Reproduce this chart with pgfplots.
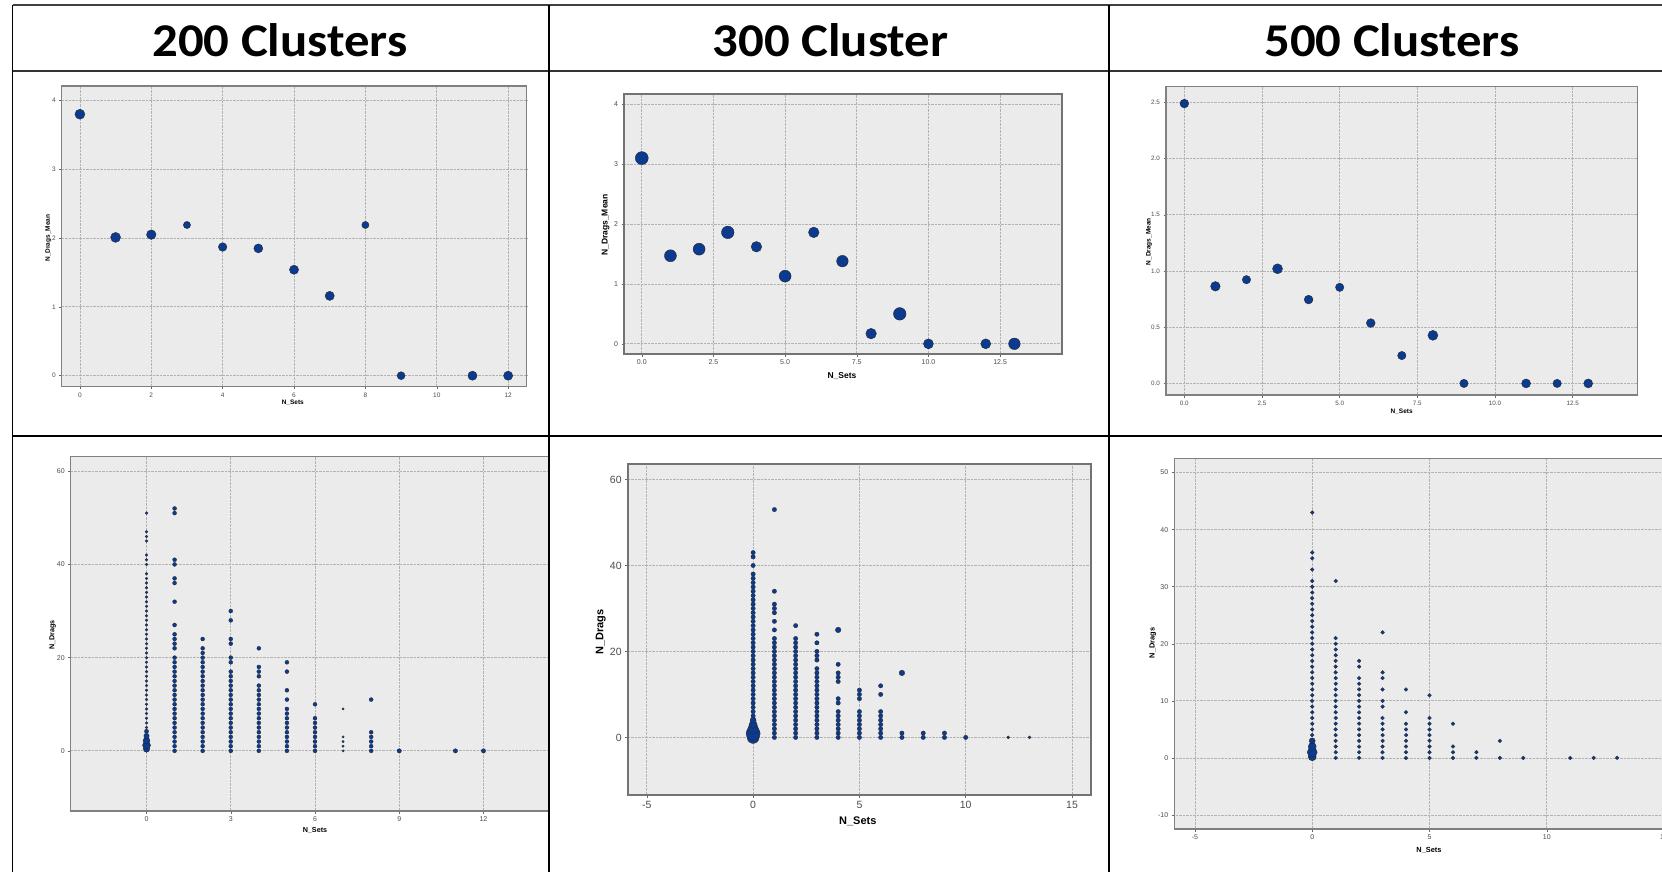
\documentclass[border=0pt]{standalone}
\usepackage{graphicx}
\usepackage{pgfplots}
\pgfplotsset{compat=1.18}
\usepackage{fontspec}
\setmainfont{Liberation Sans}
\newfontfamily\hdr{Carlito}
\definecolor{bgc}{RGB}{235,235,235}
\definecolor{frc}{RGB}{128,128,128}
\definecolor{grc}{RGB}{178,178,178}
\definecolor{mkc}{RGB}{11,58,142}
\pgfplotsset{
 spss/.style={scale only axis, anchor=south west, axis background/.style={fill=bgc},
   axis line style={draw=frc, line width=1.3pt},
   grid=major, major grid style={draw=grc, densely dotted, line width=0.8pt},
   tick align=outside, tick pos=left, major tick length=2.5pt,
   tick style={draw=black!60, line width=0.5pt},
   /pgf/number format/assume math mode=true,
   every tick label/.append style={text=black!70}},
 dots/.style={only marks, mark=*, mark size=#1, mark options={fill=mkc, draw=black!85, line width=0.3pt}},
 pts/.style={scatter, only marks, mark=*,
   scatter/use mapped color={draw=black!85, fill=mkc},
   visualization depends on={\thisrow{s}\as\msz},
   scatter/@pre marker code/.append style={/tikz/mark size=\msz},
   mark options={line width=0.35pt}},
}
\begin{document}
\begin{tikzpicture}
\clip (0pt,0pt) rectangle (1662pt,-872pt);
\fill[white] (0pt,0pt) rectangle (1662pt,-872pt);

% ---------- headers ----------
\node[anchor=base,inner sep=0pt] at (280pt,-57pt) {\scalebox{1.08}[1]{\hdr\bfseries\fontsize{47}{50}\selectfont 200 Clusters}};
\node[anchor=base,inner sep=0pt] at (830.5pt,-57pt) {\scalebox{1.08}[1]{\hdr\bfseries\fontsize{47}{50}\selectfont 300 Cluster}};
\node[anchor=base,inner sep=0pt] at (1392pt,-57pt) {\scalebox{1.08}[1]{\hdr\bfseries\fontsize{47}{50}\selectfont 500 Clusters}};

% ---------- P1: 200 clusters, mean ----------
\begin{scope}
\clip (12.7pt,-71pt) rectangle (549pt,-436pt);
\begin{axis}[spss, at={(61.7pt,-386.7pt)}, width=465pt, height=300.7pt,
  xmin=-0.51, xmax=12.52, ymin=-0.16, ymax=4.21,
  xtick={0,2,4,6,8,10,12}, ytick={0,1,2,3,4},
  tick label style={font=\fontsize{6.5}{7}\selectfont},
  label style={font=\bfseries\fontsize{6.5}{7}\selectfont},
  xlabel={N\_Sets}, ylabel={N\_Drags\_Mean},
  xlabel style={at={(axis description cs:0.497,-0.053)}, anchor=center},
  ylabel style={at={(axis description cs:-0.029,0.494)}, anchor=center}]
\addplot[pts] table[row sep=\\] {x y s\\
0 3.80 5.0\\ 1 2.01 5.0\\ 2 2.05 4.8\\ 3 2.19 3.6\\ 4 1.87 4.3\\ 5 1.85 4.5\\
6 1.54 4.6\\ 7 1.16 4.6\\ 8 2.19 3.6\\ 9 0.00 4.0\\ 11 0.00 4.6\\ 12 0.00 4.6\\};
\end{axis}
\end{scope}

% ---------- P2: 300 cluster, mean ----------
\begin{scope}
\clip (549pt,-71pt) rectangle (1109pt,-436pt);
\begin{axis}[spss, at={(624pt,-354pt)}, width=437.7pt, height=260pt,
  axis line style={draw=black!55, line width=1.9pt},
  xmin=-0.62, xmax=14.65, ymin=-0.17, ymax=4.17,
  xtick={0,2.5,5,7.5,10,12.5}, xticklabels={0.0,2.5,5.0,7.5,10.0,12.5},
  ytick={0,1,2,3,4},
  tick label style={font=\fontsize{7}{8}\selectfont},
  label style={font=\bfseries\fontsize{8.5}{9}\selectfont},
  xlabel={N\_Sets}, ylabel={N\_Drags\_Mean},
  xlabel style={at={(axis description cs:0.498,-0.085)}, anchor=center},
  ylabel style={at={(axis description cs:-0.042,0.496)}, anchor=center}]
\addplot[pts] table[row sep=\\] {x y s\\
0 3.10 6.5\\ 1 1.47 6.0\\ 2 1.58 6.0\\ 3 1.86 6.3\\ 4 1.62 5.3\\ 5 1.13 6.0\\
6 1.86 5.3\\ 7 1.38 5.8\\ 8 0.17 5.3\\ 9 0.50 6.3\\ 10 0.00 5.0\\ 12 0.00 5.0\\ 13 0.00 5.8\\};
\end{axis}
\end{scope}

% ---------- P3: 500 clusters, mean ----------
\begin{scope}
\clip (1109pt,-71pt) rectangle (1662pt,-436pt);
\begin{axis}[spss, at={(1166pt,-395pt)}, width=471.3pt, height=308.3pt,
  xmin=-0.59, xmax=14.58, ymin=-0.103, ymax=2.64,
  xtick={0,2.5,5,7.5,10,12.5}, xticklabels={0.0,2.5,5.0,7.5,10.0,12.5},
  ytick={0,0.5,1,1.5,2,2.5}, yticklabels={0.0,0.5,1.0,1.5,2.0,2.5},
  tick label style={font=\fontsize{6.3}{7}\selectfont},
  label style={font=\bfseries\fontsize{6.5}{7}\selectfont},
  xlabel={N\_Sets}, ylabel={N\_Drags\_Mean},
  xlabel style={at={(axis description cs:0.5,-0.055)}, anchor=center},
  ylabel style={at={(axis description cs:-0.036,0.497)}, anchor=center}]
\addplot[pts] table[row sep=\\] {x y s\\
0 2.49 4.4\\ 1 0.864 4.8\\ 2 0.923 4.2\\ 3 1.02 5.0\\ 4 0.746 4.4\\ 5 0.855 4.2\\
6 0.537 4.4\\ 7 0.248 4.2\\ 8 0.428 5.0\\ 9 0 4.2\\ 11 0 4.5\\ 12 0 4.2\\ 13 0 4.5\\};
\end{axis}
\end{scope}

% ---------- P4: 200 clusters, all ----------
\begin{scope}
\clip (12.7pt,-436pt) rectangle (549pt,-872pt);
\begin{axis}[spss, at={(70.7pt,-811pt)}, width=488.6pt, height=354.3pt,
  xmin=-2.7, xmax=14.7, ymin=-12.9, ymax=63.1,
  xtick={0,3,6,9,12,15}, ytick={0,20,40,60},
  tick label style={font=\fontsize{7}{8}\selectfont},
  label style={font=\bfseries\fontsize{7.2}{8}\selectfont},
  xlabel={N\_Sets}, ylabel={N\_Drags},
  xlabel style={at={(axis description cs:0.5,-0.056)}, anchor=center},
  ylabel style={at={(axis description cs:-0.037,0.497)}, anchor=center}]
% x = 0 column
\addplot[dots=1.4pt] table[row sep=\\] {x y\\
0 0\\0 1\\0 2\\0 3\\0 4\\0 5\\0 6\\0 7\\0 8\\0 9\\0 10\\0 11\\0 12\\0 13\\0 14\\0 15\\0 16\\0 17\\0 18\\0 19\\
0 20\\0 21\\0 22\\0 23\\0 24\\0 25\\0 26\\0 27\\0 28\\0 29\\0 30\\0 31\\0 32\\0 33\\0 34\\0 35\\0 36\\0 37\\0 38\\
0 40\\0 41\\0 42\\0 45\\0 46\\0 47\\0 51\\};
% x = 1..6, 8
\addplot[dots=2pt] table[row sep=\\] {x y\\
1 0\\1 1\\1 2\\1 3\\1 4\\1 5\\1 6\\1 7\\1 8\\1 9\\1 10\\1 11\\1 12\\1 13\\1 14\\1 15\\1 16\\1 17\\1 18\\1 19\\1 20\\
1 22\\1 23\\1 24\\1 25\\1 27\\1 32\\1 36\\1 37\\1 40\\1 41\\1 51\\1 52\\
2 0\\2 1\\2 2\\2 3\\2 4\\2 5\\2 6\\2 7\\2 8\\2 9\\2 10\\2 11\\2 12\\2 13\\2 14\\2 15\\2 16\\2 17\\2 18\\2 19\\2 20\\2 21\\2 22\\2 24\\
3 0\\3 1\\3 2\\3 3\\3 4\\3 5\\3 6\\3 7\\3 8\\3 9\\3 10\\3 11\\3 12\\3 13\\3 14\\3 15\\3 16\\3 17\\3 19\\3 20\\3 23\\3 24\\3 28\\3 30\\
4 0\\4 1\\4 2\\4 3\\4 4\\4 5\\4 6\\4 7\\4 8\\4 9\\4 10\\4 11\\4 12\\4 13\\4 14\\4 16\\4 17\\4 18\\4 22\\
5 0\\5 1\\5 2\\5 3\\5 4\\5 5\\5 6\\5 7\\5 8\\5 9\\5 11\\5 13\\5 17\\5 19\\
6 0\\6 1\\6 2\\6 3\\6 4\\6 5\\6 6\\6 7\\6 10\\
8 0\\8 1\\8 2\\8 3\\8 4\\8 11\\};
\addplot[dots=1.2pt] table[row sep=\\] {x y\\ 7 0\\7 1\\7 2\\7 3\\7 9\\};
\addplot[dots=2.2pt] table[row sep=\\] {x y\\ 9 0\\11 0\\12 0\\};
\addplot[pts] table[row sep=\\] {x y s\\ 0 0.4 3.2\\ 0 1.2 4.0\\ 0 2.2 3.4\\ 0 3.2 2.7\\ 0 4.2 2.1\\};
\end{axis}
\end{scope}

% ---------- P5: 300 cluster, all ----------
\begin{scope}
\clip (549pt,-436pt) rectangle (1109pt,-872pt);
\begin{axis}[spss, at={(627.7pt,-795pt)}, width=463pt, height=331pt,
  axis line style={draw=black!55, line width=1.8pt},
  xmin=-5.9, xmax=15.88, ymin=-13.4, ymax=63.6,
  xtick={-5,0,5,10,15}, xticklabels={-5,0,5,10,15}, ytick={0,20,40,60},
  tick label style={font=\fontsize{10.5}{11}\selectfont},
  label style={font=\bfseries\fontsize{11}{12}\selectfont},
  xlabel={N\_Sets}, ylabel={N\_Drags},
  xlabel style={at={(axis description cs:0.497,-0.081)}, anchor=center},
  ylabel style={at={(axis description cs:-0.058,0.493)}, anchor=center}]
\addplot[dots=2.2pt] table[row sep=\\] {x y\\
0 0\\0 1\\0 2\\0 3\\0 4\\0 5\\0 6\\0 7\\0 8\\0 9\\0 10\\0 11\\0 12\\0 13\\0 14\\0 15\\0 16\\0 17\\0 18\\0 19\\
0 20\\0 21\\0 22\\0 23\\0 24\\0 25\\0 26\\0 27\\0 28\\0 29\\0 30\\0 31\\0 32\\0 33\\0 34\\0 35\\0 36\\0 37\\0 38\\
0 40\\0 42\\0 43\\
1 0\\1 1\\1 2\\1 3\\1 4\\1 5\\1 6\\1 7\\1 8\\1 9\\1 10\\1 11\\1 12\\1 13\\1 14\\1 15\\1 16\\1 17\\1 18\\1 19\\1 20\\1 21\\1 22\\1 23\\
1 25\\1 27\\1 29\\1 30\\1 31\\1 34\\1 53\\
2 0\\2 1\\2 2\\2 3\\2 4\\2 5\\2 6\\2 7\\2 8\\2 9\\2 10\\2 11\\2 12\\2 13\\2 14\\2 15\\2 16\\2 17\\2 18\\2 19\\2 20\\2 21\\2 22\\2 23\\2 26\\
3 0\\3 1\\3 2\\3 3\\3 4\\3 5\\3 6\\3 7\\3 8\\3 9\\3 10\\3 11\\3 12\\3 13\\3 14\\3 15\\3 16\\3 18\\3 19\\3 20\\3 22\\3 24\\
4 0\\4 1\\4 2\\4 3\\4 4\\4 5\\4 6\\4 8\\4 9\\4 13\\4 14\\4 15\\4 17\\
5 0\\5 1\\5 2\\5 3\\5 4\\5 5\\5 6\\5 9\\5 10\\5 11\\
6 0\\6 1\\6 2\\6 3\\6 4\\6 5\\6 6\\6 10\\6 12\\
7 0\\7 1\\8 0\\8 1\\9 0\\9 1\\10 0\\};
\addplot[dots=2.8pt] table[row sep=\\] {x y\\ 4 25\\7 15\\};
\addplot[dots=1.5pt] table[row sep=\\] {x y\\ 12 0\\13 0\\};
\addplot[pts] table[row sep=\\] {x y s\\ 0 0 6.0\\ 0 0.9 7.0\\ 0 2 5.4\\ 0 3 4.0\\ 0 4 3.0\\};
\end{axis}
\end{scope}

% ---------- P6: 500 clusters, all ----------
\begin{scope}
\clip (1109pt,-436pt) rectangle (1662pt,-872pt);
\begin{axis}[spss, at={(1174.3pt,-829pt)}, width=509.4pt, height=370.7pt,
  xmin=-5.88, xmax=15.84, ymin=-12.45, ymax=52.5,
  xtick={-5,0,5,10,15}, xticklabels={-5,0,5,10,15},
  ytick={-10,0,10,20,30,40,50}, yticklabels={-10,0,10,20,30,40,50},
  tick label style={font=\fontsize{7}{8}\selectfont},
  label style={font=\bfseries\fontsize{7.4}{8}\selectfont},
  xlabel={N\_Sets}, ylabel={N\_Drags},
  xlabel style={at={(axis description cs:0.5,-0.057)}, anchor=center},
  ylabel style={at={(axis description cs:-0.042,0.502)}, anchor=center}]
\addplot[dots=1.9pt] table[row sep=\\] {x y\\
0 0\\0 1\\0 2\\0 3\\0 4\\0 5\\0 6\\0 7\\0 8\\0 9\\0 10\\0 11\\0 12\\0 13\\0 14\\0 15\\0 16\\0 17\\0 18\\0 19\\
0 20\\0 21\\0 22\\0 23\\0 24\\0 25\\0 26\\0 27\\0 28\\0 29\\0 30\\0 31\\0 33\\0 35\\0 36\\0 43\\
1 0\\1 1\\1 2\\1 3\\1 4\\1 5\\1 6\\1 7\\1 8\\1 9\\1 10\\1 11\\1 12\\1 13\\1 14\\1 15\\1 16\\1 17\\1 18\\1 19\\1 20\\1 21\\1 31\\
2 0\\2 1\\2 2\\2 3\\2 4\\2 5\\2 6\\2 7\\2 8\\2 9\\2 10\\2 11\\2 12\\2 13\\2 14\\2 16\\2 17\\
3 0\\3 1\\3 2\\3 3\\3 4\\3 5\\3 6\\3 7\\3 9\\3 10\\3 12\\3 14\\3 15\\3 22\\
4 0\\4 1\\4 2\\4 3\\4 4\\4 5\\4 6\\4 8\\4 12\\
5 0\\5 1\\5 2\\5 3\\5 4\\5 5\\5 6\\5 7\\5 11\\
6 0\\6 1\\6 2\\6 6\\
7 0\\7 1\\8 0\\8 3\\9 0\\11 0\\12 0\\13 0\\};
\addplot[pts] table[row sep=\\] {x y s\\ 0 0.2 4.0\\ 0 1 5.0\\ 0 2 4.0\\ 0 3 3.0\\};
\end{axis}
\end{scope}

% ---------- table rules ----------
\draw[line width=2pt, black!75] (12.7pt,-5pt) -- (1662pt,-5pt);
\draw[line width=1.8pt, black!80] (12.7pt,-71pt) -- (1662pt,-71pt);
\draw[line width=1.3pt, black] (12.7pt,-436pt) -- (1662pt,-436pt);
\draw[line width=1.3pt, black] (12.7pt,-5pt) -- (12.7pt,-872pt);
\draw[line width=1.3pt, black] (549pt,-5pt) -- (549pt,-872pt);
\draw[line width=1.3pt, black] (1109pt,-5pt) -- (1109pt,-872pt);
\end{tikzpicture}
\end{document}
